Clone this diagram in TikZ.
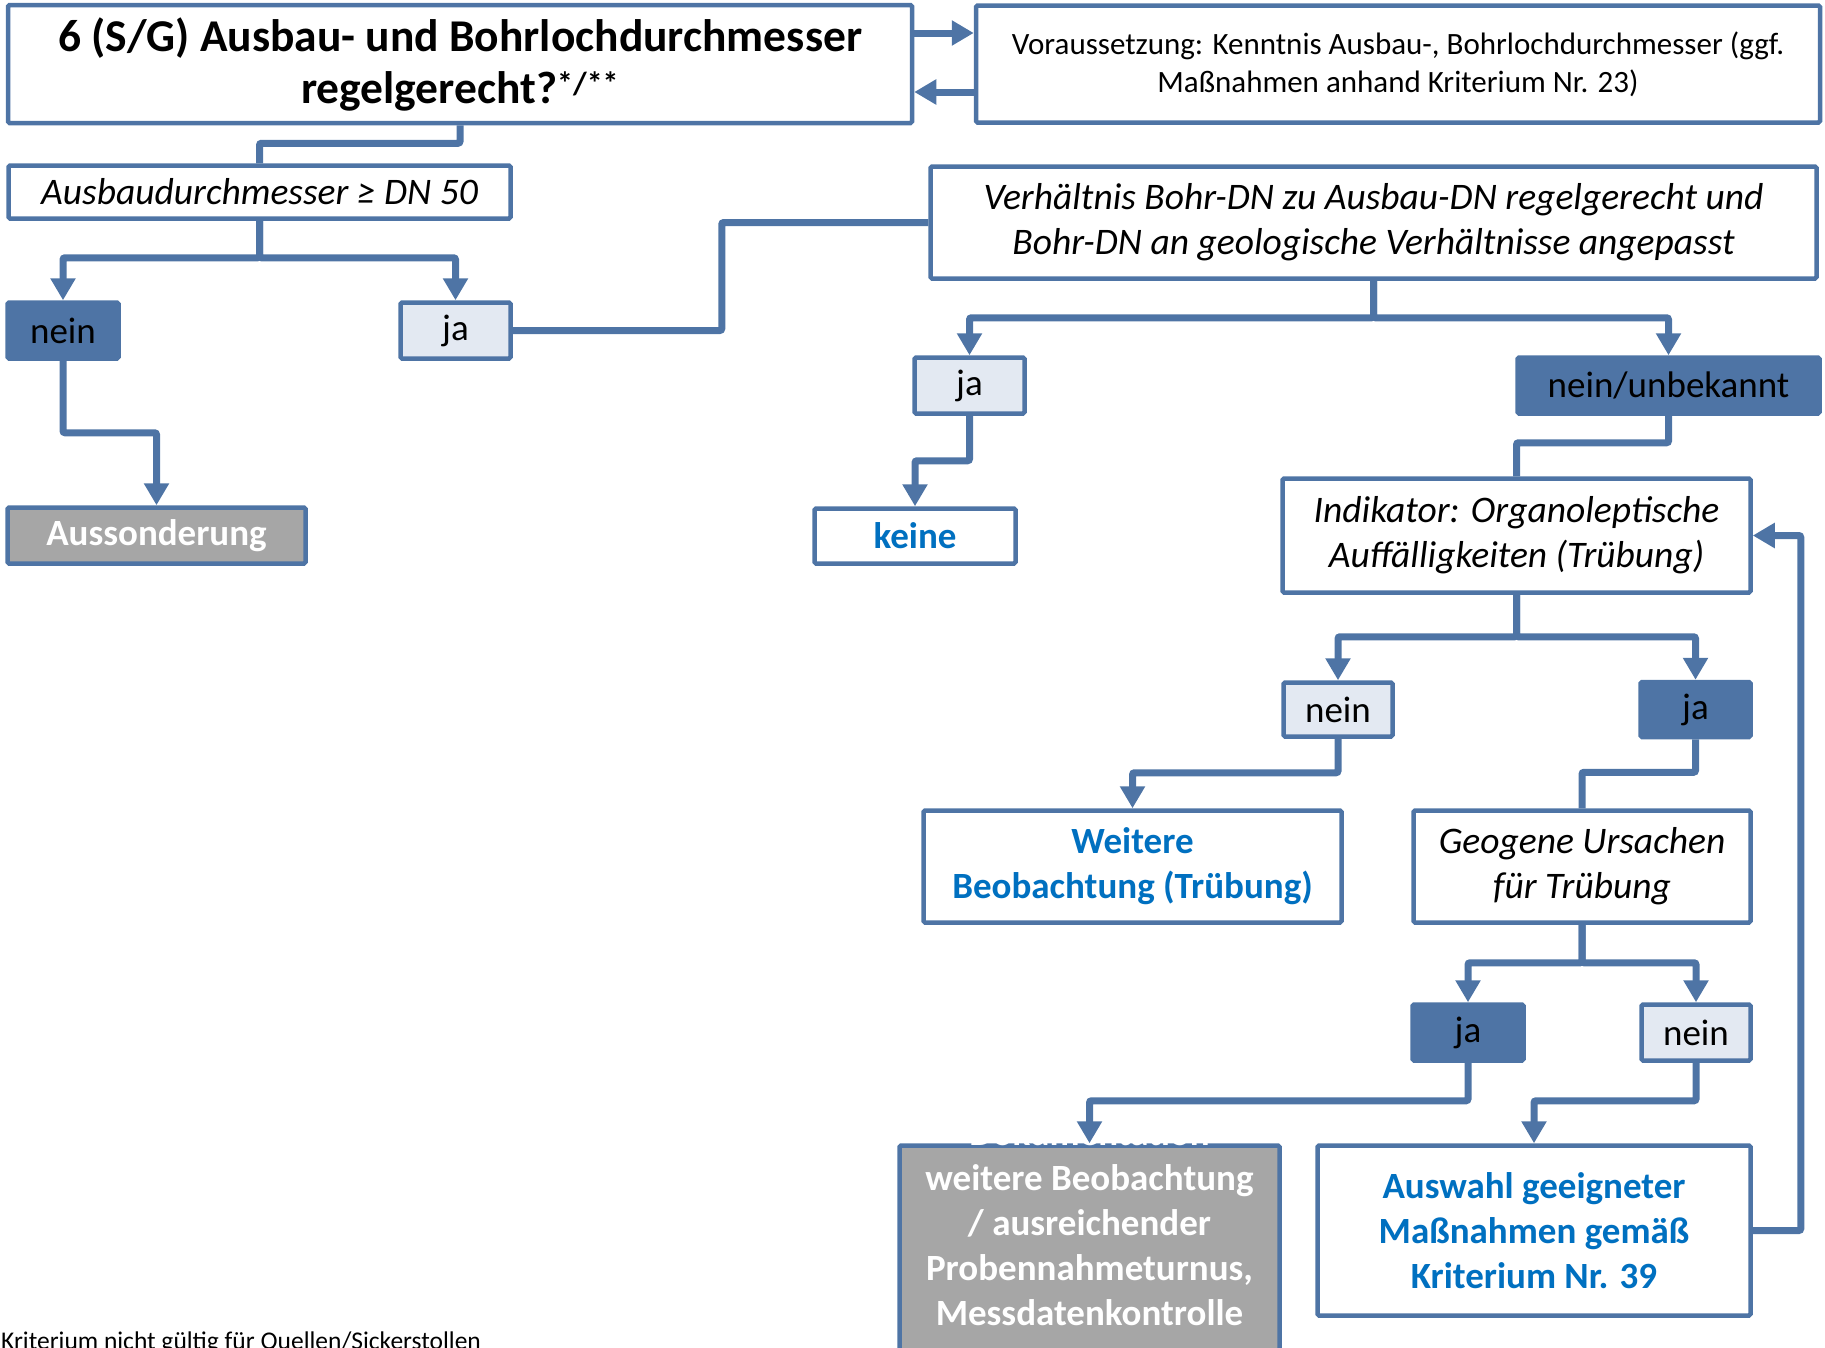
\documentclass[tikz,border=0pt]{standalone}
\usepackage{fontspec}
\setmainfont{Carlito}
\usetikzlibrary{positioning,arrows.meta}
\definecolor{linie}{HTML}{4E74A5}
\definecolor{hell}{HTML}{E3E9F2}
\definecolor{grau}{HTML}{A6A6A6}
\definecolor{textblau}{HTML}{0070C0}

\begin{document}
\begin{tikzpicture}[x=1pt,y=1pt,on grid,
    box/.style={draw=linie,line width=4.5pt,fill=white,rounded corners=1.5pt,inner sep=0pt,align=center,font=\fontsize{37}{45}\selectfont},
    frage/.style={box,font=\fontsize{37.5}{45}\selectfont\itshape},
    janein/.style={box,fill=hell},
    janeindunkel/.style={box,fill=linie},
    ergebnis/.style={box,font=\fontsize{37}{45}\selectfont\bfseries,text=textblau},
    ende/.style={box,fill=grau,font=\fontsize{37}{45}\selectfont\bfseries,text=white},
    verbinder/.style={draw=linie,line width=7pt,rounded corners=2pt},
    pfeil/.style={verbinder,-{Triangle[width=24pt,length=22pt]}}]
    \useasboundingbox (0,0) rectangle (1825,-1347);
    \clip (0,0) rectangle (1825,-1347);
    \node[box,minimum width=904pt,minimum height=118pt,font=\fontsize{45.5}{52}\selectfont\bfseries] (titel) at (460,-64) {6 (S/G) Ausbau- und Bohrlochdurchmesser\\regelgerecht?\textsuperscript{*/**}};
    \node[box,minimum width=844pt,minimum height=117pt,font=\fontsize{31}{38}\selectfont,right=938pt of titel] (voraus) {Voraussetzung: Kenntnis Ausbau-, Bohrlochdurchmesser (ggf.\\Maßnahmen anhand Kriterium Nr. 23)};
    \node[frage,minimum width=502pt,minimum height=53pt,below left=128pt and 200.5pt of titel] (ausbau) {Ausbaudurchmesser ≥ DN 50};
    \node[janeindunkel,minimum width=111pt,minimum height=56pt,below left=138.5pt and 196.5pt of ausbau] (nein1) {nein};
    \node[janein,minimum width=110pt,minimum height=56pt,right=392.5pt of nein1] (ja1) {ja};
    \node[ende,minimum width=298pt,minimum height=56pt,below right=205pt and 93.5pt of nein1] (aussonderung) {Aussonderung};
    \node[frage,minimum width=886pt,minimum height=112pt,below left=158.5pt and 24.5pt of voraus] (verhaeltnis) {Verhältnis Bohr-DN zu Ausbau-DN regelgerecht und\\Bohr-DN an geologische Verhältnisse angepasst};
    \node[janein,minimum width=110pt,minimum height=56pt,below left=163pt and 404pt of verhaeltnis] (ja2) {ja};
    \node[janeindunkel,minimum width=302pt,minimum height=56pt,right=699pt of ja2] (unbekannt) {nein/unbekannt};
    \node[ergebnis,minimum width=201pt,minimum height=55pt,below left=150.5pt and 54.5pt of ja2] (keine) {keine};
    \node[frage,minimum width=468pt,minimum height=114pt,below left=150pt and 152pt of unbekannt] (indikator) {Indikator: Organoleptische\\Auffälligkeiten (Trübung)};
    \node[janein,minimum width=109pt,minimum height=54pt,below left=174pt and 178.5pt of indikator] (nein3) {nein};
    \node[janeindunkel,minimum width=110pt,minimum height=55pt,right=357.5pt of nein3] (ja3) {ja};
    \node[ergebnis,minimum width=418pt,minimum height=112pt,below left=157pt and 205.5pt of nein3] (weitere) {Weitere\\Beobachtung (Trübung)};
    \node[frage,minimum width=337pt,minimum height=112pt,right=449.5pt of weitere] (geogen) {Geogene Ursachen\\für Trübung};
    \node[janeindunkel,minimum width=111pt,minimum height=56pt,below left=166pt and 114pt of geogen] (ja4) {ja};
    \node[janein,minimum width=109pt,minimum height=56pt,right=228pt of ja4] (nein4) {nein};
    \node[ergebnis,minimum width=433pt,minimum height=170pt,below left=198pt and 162pt of nein4] (auswahl) {Auswahl geeigneter\\Maßnahmen gemäß\\Kriterium Nr. 39};
    \node[ende,minimum width=380pt,minimum height=217pt,below left=221.5pt and 378.5pt of ja4] (doku) {};
    \node[inner sep=0pt,align=center,text=white,font=\fontsize{37}{45}\selectfont\bfseries,above=31.5pt of doku] (dokutext) {Dokumentation\\weitere Beobachtung\\/ ausreichender\\Probennahmeturnus,\\Messdatenkontrolle};
    \node[anchor=base west,inner sep=0pt,font=\fontsize{25.5}{30}\selectfont] (fussnote) at (1,-1349) {Kriterium nicht gültig für Quellen/Sickerstollen};
    \draw[verbinder] (titel.south) -- ++(0,-18) -| (ausbau.north);
    \draw[pfeil] (ausbau.south) -- ++(0,-37) -| (nein1.north);
    \draw[pfeil] (ausbau.south) -- ++(0,-37) -| (ja1.north);
    \draw[pfeil] (nein1.south) -- ++(0,-72) -| (aussonderung.north);
    \draw[verbinder] (ja1.east) -- ++(209,0) |- (verhaeltnis.west);
    \draw[pfeil] (verhaeltnis.south) -- ++(0,-37) -| (ja2.north);
    \draw[pfeil] (verhaeltnis.south) -- ++(0,-37) -| (unbekannt.north);
    \draw[pfeil] (ja2.south) -- ++(0,-45) -| (keine.north);
    \draw[verbinder] (unbekannt.south) -- ++(0,-27) -| (indikator.north);
    \draw[pfeil] (indikator.south) -- ++(0,-42) -| (nein3.north);
    \draw[pfeil] (indikator.south) -- ++(0,-42) -| (ja3.north);
    \draw[pfeil] (nein3.south) -- ++(0,-34) -| (weitere.north);
    \draw[verbinder] (ja3.south) -- ++(0,-33) -| (geogen.north);
    \draw[pfeil] (geogen.south) -- ++(0,-38) -| (ja4.north);
    \draw[pfeil] (geogen.south) -- ++(0,-38) -| (nein4.north);
    \draw[pfeil] (ja4.south) -- ++(0,-38) -| (doku.north);
    \draw[pfeil] (nein4.south) -- ++(0,-38) -| (auswahl.north);
    \draw[pfeil] (auswahl.east) -- ++(48,0) |- (indikator.east);
    \draw[pfeil] ([yshift=31pt]titel.east) -- ([yshift=31pt]voraus.west);
    \draw[pfeil] ([yshift=-28pt]voraus.west) -- ([yshift=-28pt]titel.east);
\end{tikzpicture}
\end{document}
